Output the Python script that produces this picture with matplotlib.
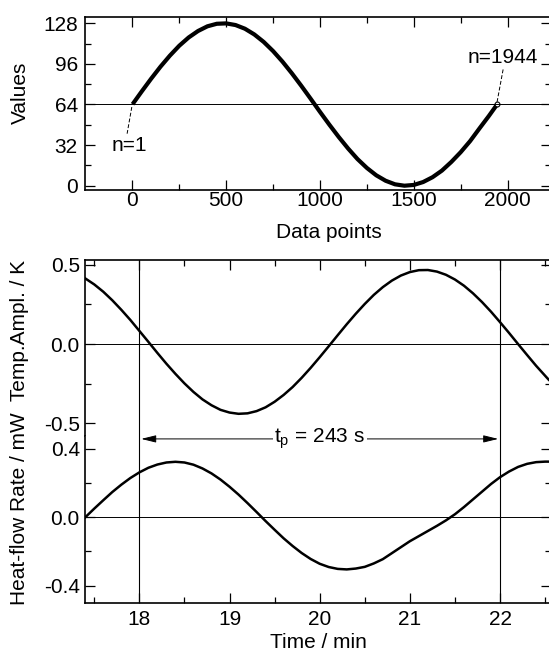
import numpy as np
import matplotlib
matplotlib.use('Agg')
import matplotlib.pyplot as plt

plt.rcParams['font.family'] = ['Liberation Sans', 'DejaVu Sans']
plt.rcParams['mathtext.fontset'] = 'custom'
plt.rcParams['mathtext.rm'] = 'Liberation Sans'
plt.rcParams['mathtext.it'] = 'Liberation Sans'

## Datos panel superior (valores de la tabla)
n_points = [1, 50, 100, 150, 200, 250, 300, 350, 400, 450, 500, 550, 600, 650,
            700, 750, 800, 850, 900, 950, 1000, 1050, 1100, 1150, 1200, 1250,
            1300, 1350, 1400, 1450, 1500, 1550, 1600, 1650, 1700, 1750, 1800,
            1850, 1900, 1944]
values = [64.2, 74.3, 84.3, 93.8, 102.5, 110.3, 116.8, 121.9, 125.6, 127.6,
          127.9, 126.6, 123.7, 119.2, 113.3, 106.1, 97.8, 88.6, 78.8, 68.6,
          58.2, 48.1, 38.4, 29.3, 21.0, 14.0, 8.2, 3.9, 1.1, 0.0,
          0.6, 2.9, 6.7, 11.9, 18.7, 26.4, 35.1, 45.1, 54.9, 64.0]

## Datos panel inferior
time_min = [17.4, 17.5, 17.6, 17.7, 17.8, 17.9, 18.0, 18.1, 18.2, 18.3, 18.4,
            18.5, 18.6, 18.7, 18.8, 18.9, 19.0, 19.1, 19.2, 19.3, 19.4, 19.5,
            19.6, 19.7, 19.8, 19.9, 20.0, 20.1, 20.2, 20.3, 20.4, 20.5, 20.6,
            20.7, 20.8, 20.9, 21.0, 21.1, 21.2, 21.3, 21.4, 21.5, 21.6, 21.7,
            21.8, 21.9, 22.0, 22.1, 22.2, 22.3, 22.4, 22.5, 22.54]
temp_ampl = [0.414, 0.376, 0.330, 0.276, 0.216, 0.152, 0.083, 0.014, -0.056,
             -0.124, -0.188, -0.248, -0.302, -0.349, -0.386, -0.415, -0.432,
             -0.440, -0.437, -0.423, -0.399, -0.364, -0.321, -0.271, -0.213,
             -0.150, -0.083, -0.014, 0.056, 0.125, 0.191, 0.253, 0.310, 0.359,
             0.400, 0.432, 0.454, 0.466, 0.467, 0.457, 0.437, 0.407, 0.368,
             0.320, 0.265, 0.204, 0.138, 0.070, 0.000, -0.069, -0.137, -0.200,
             -0.225]
heat_flow = [0.000, 0.051, 0.100, 0.148, 0.191, 0.230, 0.263, 0.290, 0.309,
             0.321, 0.325, 0.321, 0.308, 0.286, 0.257, 0.221, 0.179, 0.133,
             0.083, 0.031, -0.022, -0.073, -0.123, -0.168, -0.209, -0.244,
             -0.272, -0.291, -0.302, -0.305, -0.300, -0.290, -0.270, -0.245,
             -0.210, -0.175, -0.140, -0.110, -0.080, -0.050, -0.018, 0.018,
             0.060, 0.105, 0.150, 0.195, 0.235, 0.268, 0.295, 0.313, 0.323,
             0.326, 0.326]
period_marks = [18.0, 22.0]
period_text = r'$\mathregular{t_p}$ = 243 s'

FS = 15

def estilo(ax):
    ax.tick_params(which='both', direction='in', top=True, right=True,
                   labelsize=FS, width=0.9)
    ax.tick_params(which='major', length=7.5)
    ax.tick_params(which='minor', length=4)
    for s in ax.spines.values():
        s.set_linewidth(1.2)

fig = plt.figure(figsize=(5.49, 6.53), dpi=100)

## Panel superior
ax0 = fig.add_axes([0.1543, 0.7090, 0.8485, 0.2645])
ax0.plot(n_points, values, color='black', lw=3, solid_capstyle='butt')
ax0.plot([n_points[-1]], [values[-1]], 'o', ms=3.5, mfc='white', mec='black', mew=0.8)
ax0.axhline(64, color='black', lw=0.7)
ax0.plot([-3, -28], [62, 41], color='black', lw=0.7, ls=(0, (4, 2)))
ax0.text(-18, 32, 'n=1', fontsize=FS, ha='center', va='center')
ax0.plot([1944, 1978], [66, 93], color='black', lw=0.7, ls=(0, (4, 2)))
ax0.text(1975, 101, 'n=1944', fontsize=FS, ha='center', va='center')
ax0.set_xlim(-254, 2229)
ax0.set_ylim(-3.4, 132.7)
ax0.set_xticks([0, 500, 1000, 1500, 2000])
ax0.set_xticks([250, 750, 1250, 1750], minor=True)
ax0.set_yticks([0, 32, 64, 96, 128])
ax0.set_yticks([16, 48, 80, 112], minor=True)
estilo(ax0)
ax0.tick_params(axis='x', which='major', pad=1)
ax0.tick_params(axis='y', which='both', pad=5)

## Panel inferior - temperatura
ax1 = fig.add_axes([0.1543, 0.3323, 0.8485, 0.2695])
ax1.plot(time_min, temp_ampl, color='black', lw=1.8)
ax1.axhline(0, color='black', lw=0.7)
for xm in period_marks:
    ax1.axvline(xm, color='black', lw=0.8)
ax1.set_xlim(17.394, 22.56)
ax1.set_ylim(-0.58, 0.53)
ax1.set_yticks([-0.5, 0.0, 0.5])
ax1.set_yticks([-0.25, 0.25], minor=True)
ax1.set_yticklabels(['-0.5', '0.0', '0.5'])
ax1.set_xticks([18, 19, 20, 21, 22])
ax1.set_xticks([17.5, 18.5, 19.5, 20.5, 21.5, 22.5], minor=True)
estilo(ax1)
ax1.tick_params(which='both', bottom=False, labelbottom=False)
ax1.spines['bottom'].set_visible(False)

## Panel inferior - flujo de calor
ax2 = fig.add_axes([0.1543, 0.0770, 0.8485, 0.2553])
ax2.plot(time_min, heat_flow, color='black', lw=1.8)
ax2.axhline(0, color='black', lw=0.7)
for xm in period_marks:
    ax2.axvline(xm, color='black', lw=0.8)
ax2.set_xlim(17.394, 22.56)
ax2.set_ylim(-0.5, 0.476)
ax2.set_yticks([-0.4, 0.0, 0.4])
ax2.set_yticks([-0.2, 0.2], minor=True)
ax2.set_yticklabels(['-0.4', '0.0', '0.4'])
ax2.set_xticks([18, 19, 20, 21, 22])
ax2.set_xticks([17.5, 18.5, 19.5, 20.5, 21.5, 22.5], minor=True)
estilo(ax2)
ax2.tick_params(which='both', top=False)
ax2.tick_params(axis='x', which='major', pad=5)
ax2.spines['top'].set_visible(False)

ax2.annotate('', xy=(period_marks[0] + 0.02, 0.459), xytext=(period_marks[1] - 0.02, 0.459),
             arrowprops=dict(arrowstyle='<|-|>,head_length=0.9,head_width=0.22',
                             color='black', lw=0.7, mutation_scale=10,
                             shrinkA=0, shrinkB=0))
ax2.text(20.0, 0.462, period_text, fontsize=FS, ha='center', va='center',
         bbox=dict(facecolor='white', edgecolor='none', pad=1))

## Etiquetas
fig.text(20 / 549, 1 - 93.3 / 653, 'Values', rotation=90, fontsize=FS,
         ha='center', va='center')
fig.text(20 / 549, 0.3377, 'Heat-flow Rate / mW  Temp.Ampl. / K', rotation=90,
         fontsize=FS, ha='center', va='center')
fig.text(328.7 / 549, 1 - 238 / 653, 'Data points', fontsize=FS,
         ha='center', va='baseline')
fig.text(318.7 / 549, 5 / 653, 'Time / min', fontsize=FS,
         ha='center', va='baseline')

fig.savefig('out.png', dpi=100)
